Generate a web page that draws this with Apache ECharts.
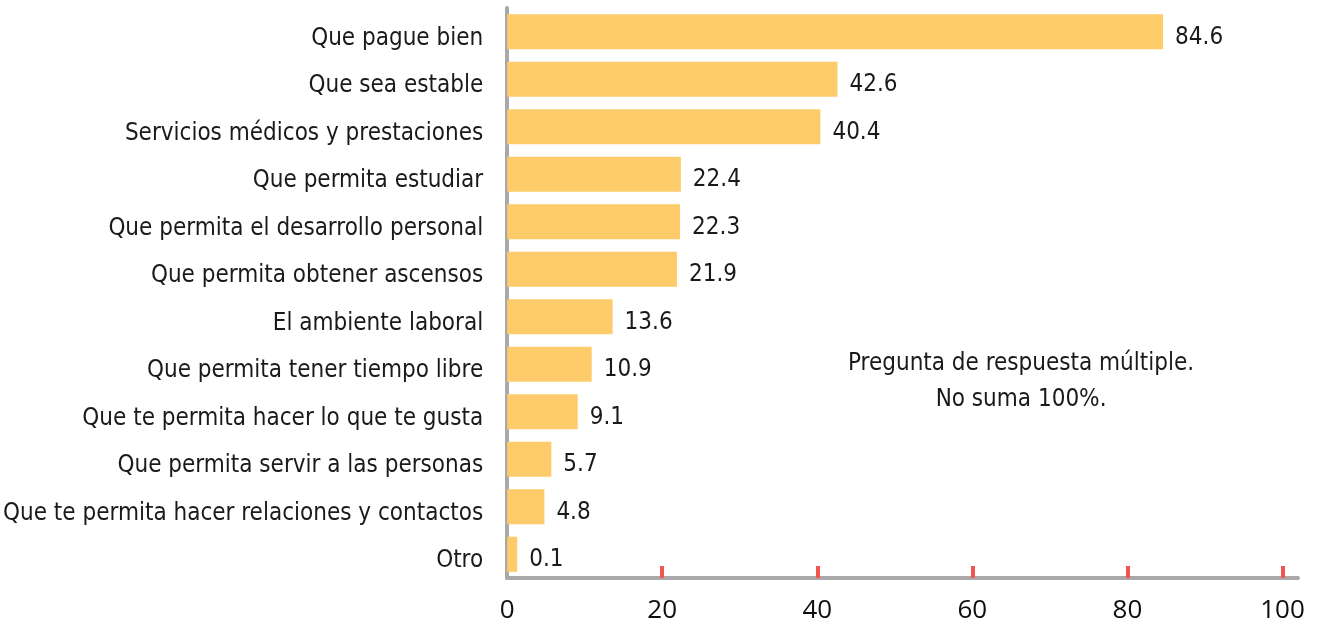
<!DOCTYPE html>
<html>
<head>
<meta charset="utf-8">
<script src="https://cdn.jsdelivr.net/npm/echarts@6/dist/echarts.min.js"></script>
<style>
  html, body { margin: 0; padding: 0; background: #fff; }
  #chart { width: 1324px; height: 628px; }
</style>
</head>
<body>
<div id="chart"></div>
<script>
const categories = [
  'Que pague bien',
  'Que sea estable',
  'Servicios médicos y prestaciones',
  'Que permita estudiar',
  'Que permita el desarrollo personal',
  'Que permita obtener ascensos',
  'El ambiente laboral',
  'Que permita tener tiempo libre',
  'Que te permita hacer lo que te gusta',
  'Que permita servir a las personas',
  'Que te permita hacer relaciones y contactos',
  'Otro'
]
const values = [84.6, 42.6, 40.4, 22.4, 22.3, 21.9, 13.6, 10.9, 9.1, 5.7, 4.8, 0.1]
const xTickLabels = [0, 20, 40, 60, 80, 100]
const noteLines = ['Pregunta de respuesta múltiple.', 'No suma 100%.']

// condensed face, closest thing we have to the original narrow font
const narrow = '"Liberation Sans Narrow", "DejaVu Sans Condensed", sans-serif'

const chart = echarts.init(document.getElementById('chart'))
chart.setOption({
  animation: false,
  grid: { left: 507, right: 26, top: 8, bottom: 50, containLabel: false },
  xAxis: {
    type: 'value',
    min: 0,
    max: 102,
    splitLine: { show: false },
    axisLine: { show: true, lineStyle: { color: '#a9a9ab', width: 4 } },
    axisTick: {
      show: true,
      inside: true,
      length: 12,
      customValues: xTickLabels.slice(1),
      lineStyle: { color: '#f0554e', width: 4 }
    },
    axisLabel: {
      customValues: xTickLabels,
      margin: 20,
      color: '#0d0d0d',
      fontSize: 26,
      fontFamily: '"Open Sans", sans-serif'
    }
  },
  yAxis: {
    type: 'category',
    inverse: true,
    data: categories,
    axisLine: { show: true, lineStyle: { color: '#a9a9ab', width: 4 } },
    axisTick: { show: false },
    axisLabel: {
      margin: 24,
      color: '#1a1a1a',
      fontSize: 24,
      fontFamily: narrow,
      verticalAlign: 'top',
      lineHeight: 14
    }
  },
  series: [{
    type: 'bar',
    data: values,
    barCategoryGap: '26%',
    barMinHeight: 10,
    itemStyle: { color: '#fdcb6a' },
    label: {
      show: true,
      position: 'right',
      distance: 12,
      offset: [0, 6],
      color: '#1a1a1a',
      fontSize: 24,
      fontFamily: narrow
    }
  }],
  graphic: [{
    type: 'text',
    left: 848,
    top: 346,
    style: {
      text: noteLines.join('\n'),
      textAlign: 'center',
      x: 171,
      fill: '#1a1a1a',
      font: '24px ' + narrow,
      lineHeight: 36
    }
  }]
})
</script>
</body>
</html>
